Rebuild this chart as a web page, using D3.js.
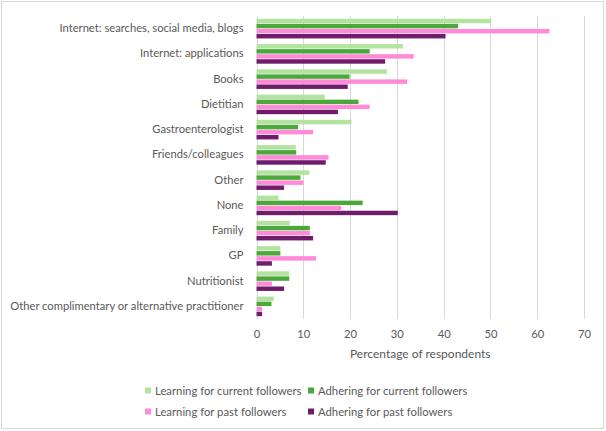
<!DOCTYPE html>
<html>
<head>
<meta charset="utf-8">
<script src="https://cdn.jsdelivr.net/npm/d3@7"></script>
<style>
  body { margin: 0; background: #fff; }
  text { font-family: Lato, "Open Sans", sans-serif; fill: #595959; }
</style>
</head>
<body>
<div id="vis"></div>
<script>
// categories, top to bottom
var categories = [
  "Internet: searches, social media, blogs",
  "Internet: applications",
  "Books",
  "Dietitian",
  "Gastroenterologist",
  "Friends/colleagues",
  "Other",
  "None",
  "Family",
  "GP",
  "Nutritionist",
  "Other complimentary or alternative practitioner"
];

var seriesNames = [
  "Learning for current followers",
  "Adhering for current followers",
  "Learning for past followers",
  "Adhering for past followers"
];

var learningCurrent = [50.2, 31.3, 27.9, 14.6, 20.3, 8.4, 11.3, 4.7, 7.1, 5.1, 7.0, 3.7];
var adheringCurrent = [43.1, 24.2, 19.9, 21.8, 8.9, 8.5, 9.4, 22.7, 11.4, 5.1, 7.0, 3.2];
var learningPast    = [62.6, 33.6, 32.2, 24.2, 12.1, 15.4, 10.0, 18.1, 11.4, 12.7, 3.3, 1.2];
var adheringPast    = [40.4, 27.5, 19.5, 17.4, 4.7, 14.8, 5.9, 30.2, 12.1, 3.3, 5.9, 1.2];

var xTicks = [0, 10, 20, 30, 40, 50, 60, 70];

var colors = ["#b4e3a1", "#4ca83a", "#ff8ad8", "#6f1d6b"];

var allSeries = [learningCurrent, adheringCurrent, learningPast, adheringPast];

var W = 606, H = 431;
var margin = {top: 16, left: 256.5, right: 22, bottom: 112};

var svg = d3.select("#vis").append("svg")
    .attr("width", W)
    .attr("height", H);

// outer border
svg.append("rect")
    .attr("x", 1.5).attr("y", 1.5)
    .attr("width", W - 4).attr("height", H - 4)
    .attr("fill", "none")
    .attr("stroke", "#d9d9d9");

var x = d3.scaleLinear()
    .domain([0, 70])
    .range([margin.left, W - margin.right]);

var y = d3.scaleBand()
    .domain(categories)
    .range([margin.top, H - margin.bottom])
    .paddingInner(0.2)
    .paddingOuter(0.1);

var ySub = d3.scaleBand()
    .domain(d3.range(4))
    .range([0, y.bandwidth()]);

/* gridlines */
svg.append("g")
    .selectAll("line")
    .data(xTicks)
    .enter()
    .append("line")
    .attr("x1", function(d) { return Math.round(x(d)) + 0.5; })
    .attr("x2", function(d) { return Math.round(x(d)) + 0.5; })
    .attr("y1", margin.top)
    .attr("y2", H - margin.bottom)
    .attr("stroke", "#d9d9d9")
    .attr("stroke-width", 1);

/* bars */
var groups = svg.append("g")
    .selectAll("g")
    .data(categories)
    .enter()
    .append("g")
    .attr("transform", function(d) { return "translate(0," + y(d) + ")"; });

groups.selectAll("rect")
    .data(function(d, i) { return allSeries.map(function(s, k) { return {k: k, v: s[i]}; }); })
    .enter()
    .append("rect")
    .attr("x", x(0))
    .attr("y", function(d) { return ySub(d.k) + 0.3; })
    .attr("width", function(d) { return x(d.v) - x(0); })
    .attr("height", ySub.bandwidth() - 0.6)
    .attr("fill", function(d) { return colors[d.k]; });

/* category labels */
var yAxis = d3.axisLeft(y).tickSize(0).tickPadding(13);
var yg = svg.append("g")
    .attr("transform", "translate(" + x(0) + ",0)")
    .call(yAxis);
yg.select(".domain").remove();
yg.selectAll("text")
    .style("font-size", "11.2px")
    .attr("fill", "#595959");

/* x axis */
var xAxis = d3.axisBottom(x).tickValues(xTicks).tickSize(0).tickPadding(11);
var xg = svg.append("g")
    .attr("transform", "translate(0," + (H - margin.bottom) + ")")
    .call(xAxis);
xg.select(".domain").remove();
xg.selectAll("text")
    .style("font-size", "11.2px")
    .attr("fill", "#595959");

svg.append("text")
    .attr("x", (x(0) + x(70)) / 2)
    .attr("y", 358)
    .attr("text-anchor", "middle")
    .style("font-size", "12px")
    .text("Percentage of respondents");

/* legend */
var legendPos = [[145, 391], [308, 391], [145, 412], [308, 412]];
var legend = svg.append("g")
    .selectAll("g")
    .data(seriesNames)
    .enter()
    .append("g")
    .attr("transform", function(d, i) { return "translate(" + legendPos[i][0] + "," + legendPos[i][1] + ")"; });

legend.append("rect")
    .attr("x", 0).attr("y", -3.5)
    .attr("width", 6).attr("height", 6)
    .attr("fill", function(d, i) { return colors[i]; });

legend.append("text")
    .attr("x", 10)
    .attr("dy", "0.35em")
    .style("font-size", "11.3px")
    .text(function(d) { return d; });
</script>
</body>
</html>
